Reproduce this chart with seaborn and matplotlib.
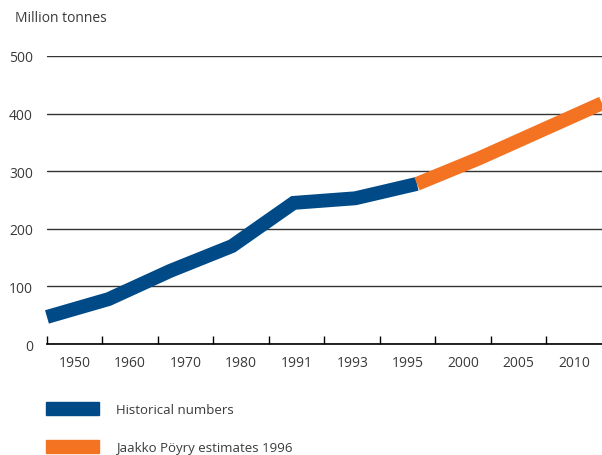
import matplotlib
matplotlib.use("Agg")
import matplotlib.pyplot as plt
import matplotlib.patches as mpatches
import numpy as np
import pandas as pd
import seaborn as sns

# data
years = ["1950", "1960", "1970", "1980", "1991", "1993", "1995", "2000", "2005", "2010"]
historical = [47, 78, 127, 170, 245, 253, 278]            # 1950 .. 1995
estimates = [278, 322, 370, 418]                         # 1995 .. 2010
series_names = ["Historical numbers", "Jaakko Pöyry estimates 1996"]
colors = ["#004b87", "#f47323"]

hist_df = pd.DataFrame({"pos": np.arange(len(historical)), "value": historical, "series": series_names[0]})
est_df = pd.DataFrame({"pos": np.arange(len(estimates)) + len(historical) - 1, "value": estimates,
                       "series": series_names[1]})
df = pd.concat([hist_df, est_df], ignore_index=True)

sns.set_style("white")
plt.rcParams["font.family"] = ["Open Sans", "DejaVu Sans"]
text_color = "#3a3a3a"

fig = plt.figure(figsize=(6.02, 4.56), dpi=100)
ax = fig.add_axes([0.078, 0.2434, 0.922, 0.6316])

sns.lineplot(data=df, x="pos", y="value", hue="series", palette=colors, linewidth=10,
             legend=False, ax=ax, sort=False)
for line in ax.get_lines():
    line.set_solid_capstyle("butt")
    line.set_solid_joinstyle("miter")
    line.set_clip_on(False)

n = len(years)
span = n - 1
ax.set_xlim(0, span)
ax.set_ylim(0, 500)

# ticks at band edges, labels at band centres
band = span / n
ax.set_xticks([i * band for i in range(n)])
ax.set_xticks([(i + 0.5) * band for i in range(n)], minor=True)
ax.set_xticklabels([])
ax.set_xticklabels(years, minor=True)
ax.tick_params(axis="x", which="major", direction="in", length=6, width=1, color="black", bottom=True)
ax.tick_params(axis="x", which="minor", length=0, pad=8, labelsize=10, labelcolor=text_color)

ax.set_yticks(range(0, 501, 100))
ax.tick_params(axis="y", length=0, pad=10, labelsize=10, labelcolor=text_color)
ax.yaxis.grid(True, color="#333333", linewidth=1)
ax.set_axisbelow(True)

for side in ["left", "right", "top"]:
    ax.spines[side].set_visible(False)
ax.spines["bottom"].set_color("black")
ax.spines["bottom"].set_linewidth(1.2)

ax.set_xlabel("")
ax.set_ylabel("")
fig.text(15 / 602, 1 - 18 / 456, "Million tonnes", fontsize=10, color=text_color, va="center", ha="left")

handles = [mpatches.Patch(color=c, label=s) for c, s in zip(colors, series_names)]
fig.legend(handles=handles, loc="upper left", bbox_to_anchor=(46 / 602, 1 - 403 / 456),
           frameon=False, borderpad=0, borderaxespad=0, handlelength=4.0, handleheight=1.1,
           handletextpad=1.3, labelspacing=1.85, fontsize=9.5, labelcolor=text_color)

fig.savefig("out.png", dpi=100)
